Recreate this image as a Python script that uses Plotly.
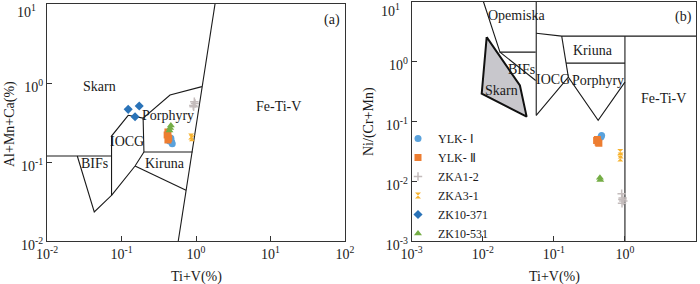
import plotly.graph_objects as go

# ---------------- data ----------------
series_names = ["YLK- Ⅰ", "YLK- Ⅱ", "ZKA1-2", "ZKA3-1", "ZK10-371", "ZK10-531"]
series_colors = ["#5aa2dc", "#ed7d31", "#c4bcbc", "#f7b330", "#2a73b8", "#74ad45"]
series_symbols = ["circle", "square", "cross-thin", "hourglass", "diamond", "triangle-up"]

# panel (a): Ti+V(%) vs Al+Mn+Ca(%)
a_x = {
    "YLK- Ⅰ":  [0.45, 0.47, 0.48, 0.46, 0.44],
    "YLK- Ⅱ":  [0.42, 0.41, 0.43, 0.42],
    "ZKA1-2":  [0.95, 0.92, 0.97, 0.93],
    "ZKA3-1":  [0.86, 0.88],
    "ZK10-371": [0.123, 0.173, 0.152],
    "ZK10-531": [0.45, 0.46, 0.44],
}
a_y = {
    "YLK- Ⅰ":  [0.19, 0.18, 0.17, 0.20, 0.185],
    "YLK- Ⅱ":  [0.24, 0.22, 0.20, 0.19],
    "ZKA1-2":  [0.58, 0.52, 0.55, 0.50],
    "ZKA3-1":  [0.21, 0.20],
    "ZK10-371": [0.464, 0.512, 0.374],
    "ZK10-531": [0.27, 0.29, 0.25],
}
# panel (b): Ti+V(%) vs Ni/(Cr+Mn)
b_x = {
    "YLK- Ⅰ":  [0.47, 0.46],
    "YLK- Ⅱ":  [0.41, 0.42, 0.40, 0.43],
    "ZKA1-2":  [0.90, 0.93, 0.95, 0.91, 0.92],
    "ZKA3-1":  [0.86, 0.87, 0.86],
    "ZK10-371": [],
    "ZK10-531": [0.445, 0.45],
}
b_y = {
    "YLK- Ⅰ":  [0.058, 0.055],
    "YLK- Ⅱ":  [0.050, 0.045, 0.048, 0.043],
    "ZKA1-2":  [0.0062, 0.0053, 0.0047, 0.0043, 0.0050],
    "ZKA3-1":  [0.031, 0.027, 0.024],
    "ZK10-371": [],
    "ZK10-531": [0.0115, 0.0105],
}

# field boundaries, panel (a) (None separates polylines)
a_bound_x = [1.80, 0.578, None,
             1.2, 0.448, 0.195, 0.123, 0.0735, 0.0735, 0.0431, 0.0255, None,
             0.01, 0.0735, None,
             0.195, 0.2, 0.90, None,
             0.0735, 0.152, 0.2, None,
             0.152, 0.735]
a_bound_y = [10, 0.01, None,
             0.90, 0.705, 0.36, 0.39, 0.213, 0.0379, 0.0233, 0.119, None,
             0.119, 0.119, None,
             0.36, 0.134, 0.134, None,
             0.0379, 0.089, 0.134, None,
             0.089, 0.0438]
# field boundaries, panel (b)
b_bound_x = [0.0102, 0.01746, 0.0555, None,
             0.01746, 0.0555, None,
             0.0565, 0.0565, None,
             0.0565, 0.129, 10, None,
             0.129, 0.16, None,
             0.1486, 1, None,
             0.0565, 0.16, 0.42, 1, None,
             1, 1]
b_bound_y = [10, 1.43, 1.43, None,
             1.43, 0.482, None,
             10, 0.126, None,
             2.96, 2.64, 2.64, None,
             2.64, 0.548, None,
             0.937, 0.937, None,
             0.126, 0.548, 0.104, 0.452, None,
             2.64, 0.001]
b_skarn_x = [0.01135, 0.0333, 0.0414, 0.00966, 0.01135]
b_skarn_y = [2.54, 0.398, 0.12, 0.29, 2.54]

a_labels = ["Skarn", "Porphyry", "IOCG", "BIFs", "Kiruna", "Fe-Ti-V", "(a)"]
b_labels = ["Opemiska", "BIFs", "Skarn", "IOCG", "Kriuna", "Porphyry", "Fe-Ti-V", "(b)"]

a_xticks = [0.01, 0.1, 1, 10, 100]
a_xticktext = ["10<sup>-2</sup>", "10<sup>-1</sup>", "10<sup>0</sup>", "10<sup>1</sup>", "10<sup>2</sup>"]
a_yticks = [0.01, 0.1, 1, 10]
a_yticktext = ["10<sup>-2</sup>", "10<sup>-1</sup>", "10<sup>0</sup>", "10<sup>1</sup>"]
b_xticks = [0.001, 0.01, 0.1, 1, 10]
b_xticktext = ["10<sup>-3</sup>", "10<sup>-2</sup>", "10<sup>-1</sup>", "10<sup>0</sup>", "10<sup>1</sup>"]
b_yticks = [0.001, 0.01, 0.1, 1, 10]
b_yticktext = ["10<sup>-3</sup>", "10<sup>-2</sup>", "10<sup>-1</sup>", "10<sup>0</sup>", "10<sup>1</sup>"]

# ---------------- figure ----------------
W, H = 700, 284
FONT = "Liberation Serif, Times New Roman, serif"
fig = go.Figure()

fig.add_trace(go.Scatter(x=a_bound_x, y=a_bound_y, mode="lines", xaxis="x", yaxis="y",
                         line=dict(color="#1a1a1a", width=1.1), showlegend=False, hoverinfo="skip"))
fig.add_trace(go.Scatter(x=b_skarn_x, y=b_skarn_y, mode="lines", xaxis="x2", yaxis="y2",
                         fill="toself", fillcolor="#c8c7cc",
                         line=dict(color="#111", width=2), showlegend=False, hoverinfo="skip"))
fig.add_trace(go.Scatter(x=b_bound_x, y=b_bound_y, mode="lines", xaxis="x2", yaxis="y2",
                         line=dict(color="#1a1a1a", width=1.1), showlegend=False, hoverinfo="skip"))

sizes = {"circle": 7, "square": 7, "cross-thin": 6, "hourglass": 6, "diamond": 7, "triangle-up": 7}
for name, col, sym in zip(series_names, series_colors, series_symbols):
    mk = dict(color=col, symbol=sym, size=sizes[sym])
    if sym == "cross-thin":
        mk["line"] = dict(color=col, width=1.5)
    fig.add_trace(go.Scatter(x=a_x[name], y=a_y[name], mode="markers", name=name,
                             xaxis="x", yaxis="y", marker=mk, showlegend=True))
    fig.add_trace(go.Scatter(x=b_x[name], y=b_y[name], mode="markers", name=name,
                             xaxis="x2", yaxis="y2", marker=mk, showlegend=False))

def px2x(px, x0, x1, lo, hi):
    return lo + (px - x0) / (x1 - x0) * (hi - lo)

# axes geometry (pixels)
AL, AR, AT, AB = 47, 345, 4, 241
BL, BR, BT, BB = 411.7, 696, 1.5, 241.3

axis_common = dict(type="log", showgrid=False, zeroline=False, showline=True, linecolor="#333",
                   linewidth=1, mirror=True, ticks="inside", ticklen=5, tickcolor="#333",
                   automargin=False,
                   tickfont=dict(family=FONT, size=14, color="#1a1a1a"))
# top y tick labels sit a bit below their tick in the reference: draw them as annotations
a_ytt = a_yticktext[:-1] + [""]
b_ytt = b_yticktext[:-1] + [""]
fig.update_layout(
    width=W, height=H, margin=dict(l=0, r=0, t=0, b=0, autoexpand=False),
    paper_bgcolor="white", plot_bgcolor="white",
    font=dict(family=FONT, size=14, color="#1a1a1a"),
    xaxis=dict(axis_common, domain=[AL / W, AR / W], range=[-2, 2],
               tickvals=a_xticks, ticktext=a_xticktext, anchor="y"),
    yaxis=dict(axis_common, domain=[1 - AB / H, 1 - AT / H], range=[-2, 1],
               tickvals=a_yticks, ticktext=a_ytt, anchor="x", ticklabelshift=4),
    xaxis2=dict(axis_common, domain=[BL / W, BR / W], range=[-3, 1],
                tickvals=b_xticks, ticktext=b_xticktext, anchor="y2"),
    yaxis2=dict(axis_common, domain=[1 - BB / H, 1 - BT / H], range=[-3, 1],
                tickvals=b_yticks, ticktext=b_ytt, anchor="x2", ticklabelshift=4),
    legend=dict(x=398 / W, y=1 - 124 / H, xanchor="left", yanchor="top",
                bgcolor="rgba(0,0,0,0)", font=dict(family=FONT, size=12, color="#1a1a1a"),
                itemwidth=30, tracegroupgap=0),
    showlegend=True,
)

# region labels (pixel positions converted to log data coords)
a_label_px = [(99.3, 86), (168.3, 115), (126.7, 141.7), (94.3, 163.7), (165, 163.7), (278.3, 106.7), (331.7, 20)]
b_label_px = [(516.7, 15), (521.7, 69.3), (501.7, 90), (553.3, 79.3), (593.3, 50), (598.3, 80), (663.3, 98.3), (683.3, 16.7)]
anns = []
for t, (px, py) in zip(a_labels, a_label_px):
    anns.append(dict(text=t, x=px2x(px, AL, AR, -2, 2), y=px2x(py, AB, AT, -2, 1),
                     xref="x", yref="y", showarrow=False, xanchor="center", yanchor="middle",
                     font=dict(size=14)))
for t, (px, py) in zip(b_labels, b_label_px):
    anns.append(dict(text=t, x=px2x(px, BL, BR, -3, 1), y=px2x(py, BB, BT, -3, 1),
                     xref="x2", yref="y2", showarrow=False, xanchor="center", yanchor="middle",
                     font=dict(size=14)))
# axis titles and top tick labels
title_kw = dict(xref="paper", yref="paper", showarrow=False, xanchor="center", yanchor="middle",
                font=dict(size=14))
anns += [
    dict(title_kw, text="Ti+V(%)", x=196.5 / W, y=1 - 277 / H),
    dict(title_kw, text="Ti+V(%)", x=554 / W, y=1 - 277 / H),
    dict(title_kw, text="Al+Mn+Ca(%)", x=10 / W, y=1 - 124 / H, textangle=-90),
    dict(title_kw, text="Ni/(Cr+Mn)", x=369 / W, y=1 - 122 / H, textangle=-90),
    dict(title_kw, text=a_yticktext[-1], x=38 / W, y=1 - 11 / H, xanchor="right"),
    dict(title_kw, text=b_yticktext[-1], x=402 / W, y=1 - 9.5 / H, xanchor="right"),
]
fig.update_layout(annotations=anns)

fig.write_html("out.html", config={"displayModeBar": False},
               post_script="document.body.style.margin='0';")
